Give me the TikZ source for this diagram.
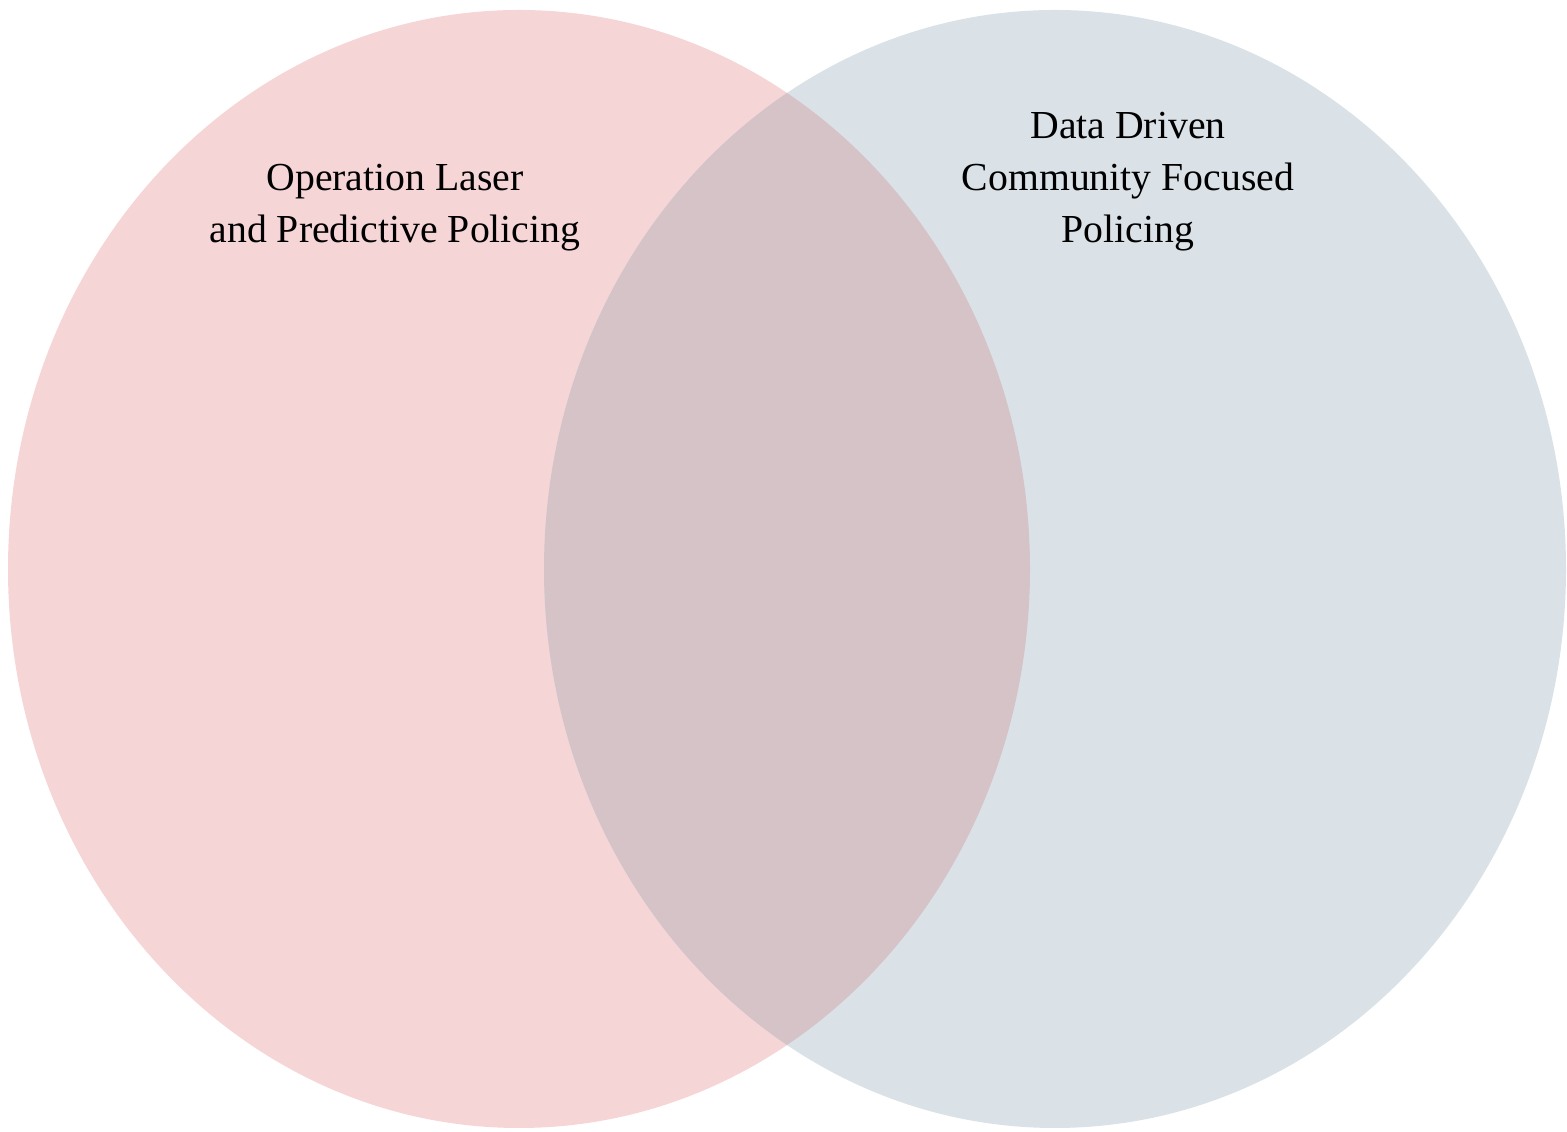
\documentclass[tikz,border=0pt]{standalone}
\usepackage{fontspec}
\setmainfont{Liberation Serif}
\definecolor{pinkset}{HTML}{F6D5D7}
\definecolor{blueset}{HTML}{DAE2E8}
\definecolor{bothset}{HTML}{D5C3C7}
\tikzset{setlabel/.style={align=center,font=\fontsize{11.3}{14.8}\selectfont}}
\begin{document}
\begin{tikzpicture}
	 \useasboundingbox (0,0) rectangle (15.67,11.32);%for adjustment

            \fill[pinkset] (5.19,5.63) ellipse [x radius=5.11, y radius=5.59];
            \fill[blueset] (10.55,5.63) ellipse [x radius=5.11, y radius=5.59];

            \begin{scope}
              \clip (5.19,5.63) ellipse [x radius=5.11, y radius=5.59];
              \fill[bothset] (10.55,5.63) ellipse [x radius=5.11, y radius=5.59];
            \end{scope}

            \node[setlabel] (laser) at (3.95,9.24) {Operation Laser\\and Predictive Policing};
            \node[setlabel] (community) at (11.28,9.50) {Data Driven\\Community Focused\\Policing};
        \end{tikzpicture}
\end{document}
